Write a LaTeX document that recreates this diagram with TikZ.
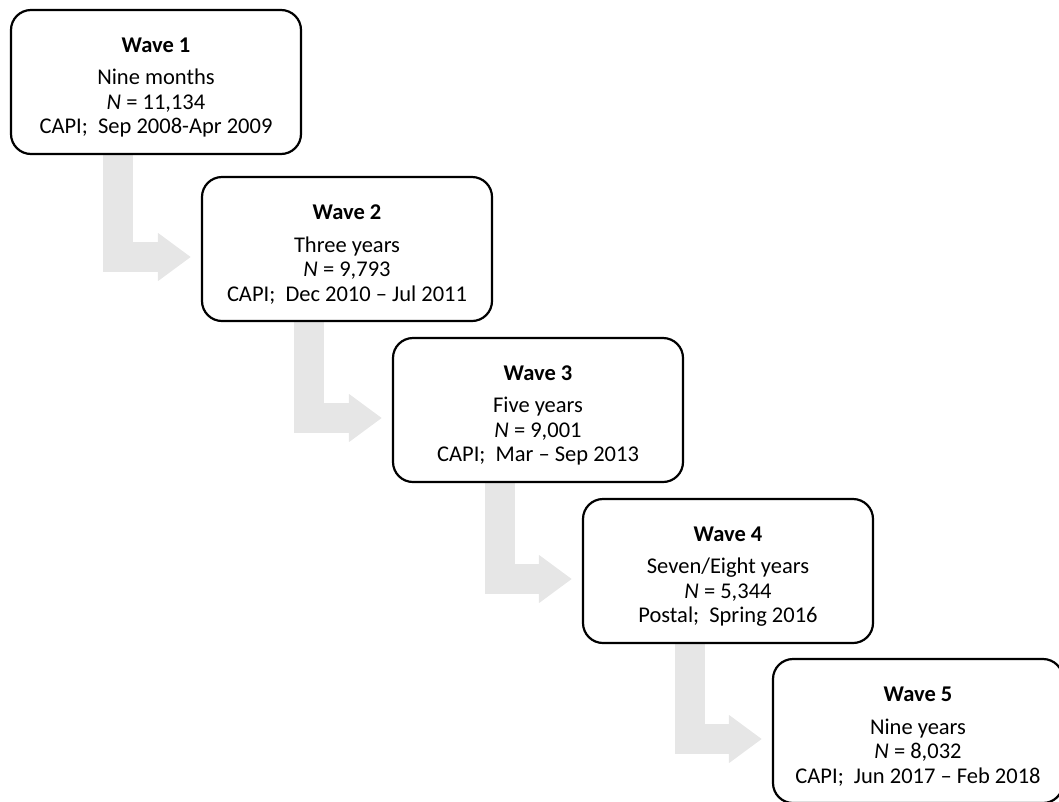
\documentclass[tikz,border=0pt]{standalone}
\usepackage{fontspec}
\setmainfont{Carlito}
\usetikzlibrary{arrows.meta}
\usetikzlibrary{calc}
\usetikzlibrary{backgrounds}
\definecolor{flowgray}{RGB}{230,230,230}

\begin{document}
\begin{tikzpicture}[x = 1pt, y = -1pt,
    wave/.style = {draw, line width = 2.2pt, rounded corners = 20pt, fill = white,
        minimum width = 290pt, minimum height = 144pt, align = center,
        font = \fontsize{22.5}{24.5}\selectfont},
    flow/.style = {draw = flowgray, line width = 30pt,
        -{Triangle[length = 33pt, width = 46pt]}}]
            \useasboundingbox (0, 0) rectangle (1059, 801);
            \node [wave] (w1) at (156, 82) {\rule{0pt}{26pt}\textbf{Wave 1}\\[8pt] Nine months\\ \textit{N} = 11,134\\ CAPI;\ \ Sep 2008-Apr 2009};
            \node [wave] (w2) at (347, 249) {\rule{0pt}{26pt}\textbf{Wave 2}\\[8pt] Three years\\ \textit{N} = 9,793\\ CAPI;\ \ Dec 2010 -- Jul 2011};
            \node [wave] (w3) at (538, 410) {\rule{0pt}{26pt}\textbf{Wave 3}\\[8pt] Five years\\ \textit{N} = 9,001\\ CAPI;\ \ Mar -- Sep 2013};
            \node [wave] (w4) at (728, 571) {\rule{0pt}{26pt}\textbf{Wave 4}\\[8pt] Seven/Eight years\\ \textit{N} = 5,344\\ Postal;\ \ Spring 2016};
            \node [wave] (w5) at (918, 731) {\rule{0pt}{26pt}\textbf{Wave 5}\\[8pt] Nine years\\ \textit{N} = 8,032\\ CAPI;\ \ Jun 2017 -- Feb 2018};
            \begin{pgfonlayer}{background}
                \draw [flow] ($(w1.south) + (-38, 0)$) |- ($(w2.west) + (-10, 8)$);
                \draw [flow] ($(w2.south) + (-38, 0)$) |- ($(w3.west) + (-10, 8)$);
                \draw [flow] ($(w3.south) + (-38, 0)$) |- ($(w4.west) + (-10, 8)$);
                \draw [flow] ($(w4.south) + (-38, 0)$) |- ($(w5.west) + (-10, 8)$);
            \end{pgfonlayer}
        \end{tikzpicture}
\end{document}
